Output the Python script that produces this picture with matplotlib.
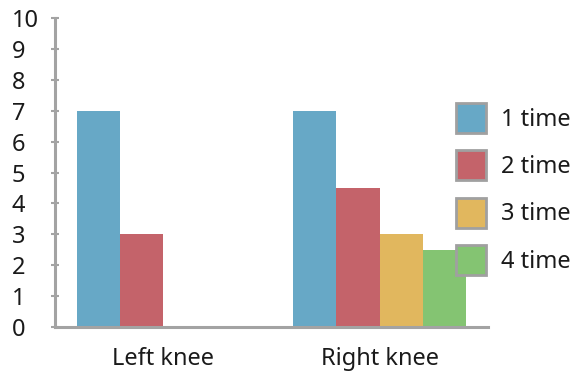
import matplotlib
matplotlib.use("Agg")
import matplotlib.pyplot as plt
from matplotlib.patches import Patch
import numpy as np

plt.rcParams['font.family'] = ['Noto Sans', 'DejaVu Sans']

categories = ["Left knee", "Right knee"]
series_names = ["1 time", "2 time", "3 time", "4 time"]
values = {
    "1 time": [7, 7],
    "2 time": [3, 4.5],
    "3 time": [0, 3],
    "4 time": [0, 2.5],
}
colors = ["#67A8C6", "#C4636A", "#E1B75E", "#84C472"]
yticks = list(range(0, 11))

fig = plt.figure(figsize=(5.86, 3.74), dpi=100)
ax = fig.add_axes([55 / 586, 47 / 374, 433 / 586, 309 / 374])

x = np.arange(len(categories))
width = 0.2
for j, name in enumerate(series_names):
    ax.bar(x + (j - 1.5) * width, values[name], width=width,
           color=colors[j], edgecolor="none", zorder=2)

axis_gray = "#A3A3A3"
text_color = "#1A1A1A"
fs = 17
ax.set_xlim(-0.5, 1.5)
ax.set_ylim(0, 10)
for side in ("top", "right"):
    ax.spines[side].set_visible(False)
for side in ("left", "bottom"):
    ax.spines[side].set_color(axis_gray)
    ax.spines[side].set_linewidth(2.2)

ax.set_yticks(yticks)
ax.set_yticklabels([str(t) for t in yticks], ha="left")
ax.tick_params(axis="y", direction="inout", length=6, width=1.5,
               color=axis_gray, labelsize=fs, pad=28, labelcolor=text_color)
ax.set_xticks(x)
ax.set_xticklabels(categories)
ax.tick_params(axis="x", length=0, labelsize=fs, pad=14.5, labelcolor=text_color)

handles = [Patch(facecolor=c, edgecolor="#A0A0A0", linewidth=2) for c in colors]
fig.legend(handles, series_names, loc="upper left",
           bbox_to_anchor=(456 / 586, 1 - 103 / 374),
           frameon=False, fontsize=fs, handlelength=1.27, handleheight=1.58,
           labelspacing=0.73, handletextpad=0.62, borderaxespad=0,
           borderpad=0, labelcolor=text_color)

fig.savefig("out.png", dpi=100)
